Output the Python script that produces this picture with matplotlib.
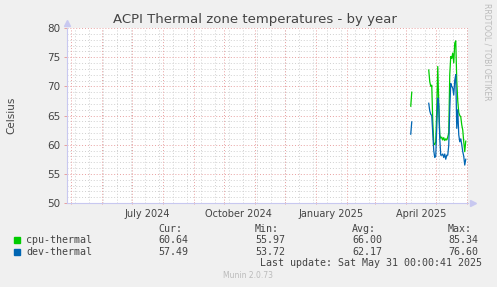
import numpy as np
import pandas as pd
import matplotlib
matplotlib.use("Agg")
import matplotlib.pyplot as plt

# Данные (дневные средние)
nan = np.nan
dates = pd.to_datetime(
    ["2025-04-06", "2025-04-07", "2025-04-08"]
    + list(pd.date_range("2025-04-24", "2025-05-31").strftime("%Y-%m-%d"))
)
cpu_thermal = [66.6, 69.0, nan,
               72.8, 70.8, 70.0, 70.2, 64.0, 60.2, 60.0,
               60.5, 66.0, 73.4, 67.0, 61.7, 61.1, 61.3, 60.8, 61.2, 60.7,
               61.0, 60.8, 61.3, 62.0, 72.0, 75.1, 74.8, 75.7, 74.0, 77.4,
               77.8, 71.0, 67.5, 65.5, 65.0, 64.8, 63.4, 62.5, 60.5, 58.8, 60.6]
dev_thermal = [61.8, 63.9, nan,
               67.1, 65.8, 65.2, 65.0, 62.0, 59.0, 57.8,
               58.0, 63.0, 68.0, 66.8, 61.1, 58.2, 58.2, 58.4, 57.8, 58.4,
               57.5, 58.2, 58.2, 59.9, 66.0, 70.5, 70.0, 69.7, 68.5, 71.0,
               72.0, 62.8, 66.0, 61.7, 60.5, 61.0, 60.0, 58.8, 58.0, 56.5, 57.5]

series_names = ["cpu-thermal", "dev-thermal"]
series_colors = ["#00CC00", "#0066B3"]
stats = [["60.64", "55.97", "66.00", "85.34"],
         ["57.49", "53.72", "62.17", "76.60"]]
stat_headers = ["Cur:", "Min:", "Avg:", "Max:"]
month_labels = ["July 2024", "October 2024", "January 2025", "April 2025"]
month_label_dates = pd.to_datetime(["2024-07-16", "2024-10-16", "2025-01-16", "2025-04-16"])

W, H = 497, 287
bg = "#F0F0F0"
txt = "#444444"

fig = plt.figure(figsize=(W / 100, H / 100), dpi=100, facecolor=bg)
ax = fig.add_axes([67 / W, (H - 203) / H, (468 - 67) / W, (203 - 28) / H])
ax.set_facecolor("white")

x0 = pd.Timestamp("2024-04-27 06:00")
x1 = pd.Timestamp("2025-06-02 06:00")
ax.set_xlim(x0, x1)
ax.set_ylim(50, 80)

# сетка
month_starts = pd.date_range("2024-05-01", "2025-06-01", freq="MS")
biweekly = pd.date_range("2024-05-05", "2025-06-01", freq="14D")
minor_col = "#D0D0D0"
major_col = "#E8A0A0"
for d in biweekly:
    ax.axvline(d, color=minor_col, lw=0.7, dashes=(1, 2), zorder=0)
for v in range(51, 80):
    if v % 5:
        ax.axhline(v, color=minor_col, lw=0.7, dashes=(1, 2), zorder=0)
for d in month_starts:
    ax.axvline(d, color=major_col, lw=0.7, dashes=(1, 2), zorder=1)
for v in range(50, 81, 5):
    ax.axhline(v, color=major_col, lw=0.7, dashes=(1, 2), zorder=1)

# линии
ax.plot(dates, cpu_thermal, color=series_colors[0], lw=0.9, zorder=3)
ax.plot(dates, dev_thermal, color=series_colors[1], lw=0.9, zorder=3)

# оси
for s in ["top", "right"]:
    ax.spines[s].set_visible(False)
for s in ["left", "bottom"]:
    ax.spines[s].set_color("#C8C8F0")
    ax.spines[s].set_linewidth(0.8)
ax.plot([1.012], [0], marker=">", ms=4, color="#C8C8F0", transform=ax.transAxes, clip_on=False)
ax.plot([0], [1.03], marker="^", ms=4, color="#C8C8F0", transform=ax.transAxes, clip_on=False)

ax.set_yticks(range(50, 81, 5))
ax.tick_params(axis="y", length=2, width=0.7, color=major_col, labelsize=7.5, labelcolor=txt, pad=3)
ax.set_xticks(month_starts[month_starts <= x1])
ax.set_xticklabels([])
ax.tick_params(axis="x", length=2, width=0.7, color=major_col, direction="inout")
for d, lab in zip(month_label_dates, month_labels):
    ax.text(d, -0.035, lab, transform=ax.get_xaxis_transform(), ha="center", va="top",
            fontsize=7, color=txt)

# подписи
fig.text(255 / W, 1 - 19 / H, "ACPI Thermal zone temperatures - by year", ha="center", va="center",
         fontsize=9.5, color=txt)
fig.text(11 / W, 1 - 115 / H, "Celsius", rotation=90, ha="center", va="center", fontsize=7.5, color=txt)
fig.text(487 / W, 1 - 52 / H, "RRDTOOL / TOBI OETIKER", rotation=270, ha="center", va="center",
         fontsize=5.5, color="#BBBBBB")

mono = "DejaVu Sans Mono"
col_x = [158, 255, 352, 448]
for cx, h in zip(col_x, stat_headers):
    fig.text(cx / W, 1 - 228.5 / H, h, ha="left", va="center", fontsize=7.2, family=mono, color=txt)
for i, (name, col) in enumerate(zip(series_names, series_colors)):
    y = 240 + i * 11.7
    fig.patches.append(plt.Rectangle((14 / W, 1 - (y + 3) / H), 6 / W, 6 / H, color=col,
                                     transform=fig.transFigure, figure=fig))
    fig.text(26 / W, 1 - y / H, name, ha="left", va="center", fontsize=7.2, family=mono, color=txt)
    for cx, v in zip(col_x, stats[i]):
        fig.text(cx / W, 1 - y / H, v, ha="left", va="center", fontsize=7.2, family=mono, color=txt)
fig.text(482 / W, 1 - 263.5 / H, "Last update: Sat May 31 00:00:41 2025", ha="right", va="center",
         fontsize=7.2, family=mono, color=txt)
fig.text(248 / W, 1 - 276 / H, "Munin 2.0.73", ha="center", va="center", fontsize=5.5, color="#BBBBBB")

fig.savefig("out.png", dpi=100, facecolor=bg)
